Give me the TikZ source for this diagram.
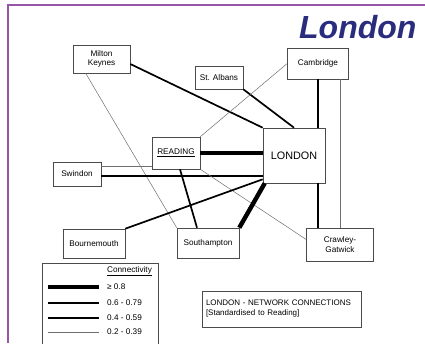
\documentclass[tikz,border=0pt]{standalone}
\usepackage{fontspec}
\setmainfont{Liberation Sans}
\usepackage{tikz}
\usetikzlibrary{positioning, calc}
\definecolor{framepurple}{RGB}{150,85,165}
\definecolor{titleblue}{RGB}{42,45,125}
\definecolor{boxgrey}{RGB}{75,75,75}
\definecolor{linkgrey}{RGB}{110,110,110}

\begin{document}
\begin{tikzpicture}[x=1pt, y=-1pt,
		town/.style={draw=boxgrey, line width=0.6pt, align=center, inner sep=0pt, font=\fontsize{8.2}{9.2}\selectfont},
		topconn/.style={line width=4.4pt},
		highconn/.style={line width=2.8pt},
		midconn/.style={line width=1.7pt},
		lowconn/.style={line width=0.5pt, draw=linkgrey},
		legendtext/.style={anchor=west, inner sep=0pt, font=\fontsize{8.2}{9}\selectfont}]
			
			\useasboundingbox (0,0) rectangle (425,343);
			\draw[framepurple, line width=1.2pt] (8,343) -- (8,5) -- (425,5);
			
			\node[anchor=east, text=titleblue, font=\fontsize{32}{32}\selectfont\bfseries\itshape] (title) at (420,27) {London};
			
			\node[town, minimum width=57, minimum height=28] (mk) at (101.5,59) {Milton\\Keynes};
			\node[town, minimum width=48, minimum height=23] (sa) at (219,77.5) {St. Albans};
			\node[town, minimum width=61, minimum height=31] (cam) at (318,63.5) {Cambridge};
			\node[town, minimum width=48, minimum height=32] (rd) at (176,153) {\underline{READING}};
			\node[town, minimum width=62, minimum height=55, font=\fontsize{10.8}{12}\selectfont] (lon) at (294,155.5) {LONDON};
			\node[town, minimum width=48, minimum height=24] (sw) at (77,174) {Swindon};
			\node[town, minimum width=62, minimum height=29] (bm) at (94,243.5) {Bournemouth};
			\node[town, minimum width=62, minimum height=30] (sth) at (208,243) {Southampton};
			\node[town, minimum width=67, minimum height=33] (cw) at (340,244.5) {Crawley-\\Gatwick};
			
			\draw[midconn] ([yshift=-5]mk.east) -- (lon.north west);
			\draw[lowconn] ([xshift=13]mk.south west) -- (sth.north west);
			\draw[midconn] (sa.south east) -- (lon.north);
			\draw[lowconn] (cam.west) -- (rd.north east);
			\draw[highconn] (cam.south) -- (cam.south |- lon.north);
			\draw[lowconn] (cw.north) -- (cw.north |- cam.south);
			\draw[topconn] (rd.east) -- (rd.east -| lon.west);
			\draw[lowconn] ([yshift=-13.5]rd.west) -- ([yshift=-13.5]rd.west -| sw.east);
			\draw[midconn] ([yshift=-2]sw.east) -- ([yshift=-2]sw.east -| lon.west);
			\draw[midconn] ([xshift=4]rd.south) -- ([xshift=-11]sth.north);
			\draw[lowconn] (rd.south east) -- ([yshift=5]cw.west);
			\draw[midconn] ([yshift=4]lon.south west) -- (bm.north east);
			\draw[topconn] ([xshift=2]lon.south west) -- (sth.north east);
			\draw[midconn] (cam.south |- lon.south) -- (cam.south |- cw.north);
			
			\draw[boxgrey, line width=0.6pt] (42,348) -- (42,263) -- (158,263) -- (158,348);
			\node[legendtext] (legtitle) at (107,271) {\underline{Connectivity}};
			\foreach \yy/\st/\lab in {287/topconn/{≥ 0.8}, 303/highconn/{0.6 - 0.79}, 318/midconn/{0.4 - 0.59}, 332/lowconn/{0.2 - 0.39}}
			{
				\draw[\st] (48,\yy) -- (99,\yy);
				\node[legendtext] (leg\yy) at (107,\yy) {\lab};
			}
			
			\node[draw=boxgrey, line width=0.6pt, align=left, text width=151, inner xsep=4, minimum height=36, font=\fontsize{8}{10}\selectfont] (netbox) at (281.5,309) {LONDON - NETWORK CONNECTIONS\\{[Standardised to Reading]}};
			\end{tikzpicture}
\end{document}
